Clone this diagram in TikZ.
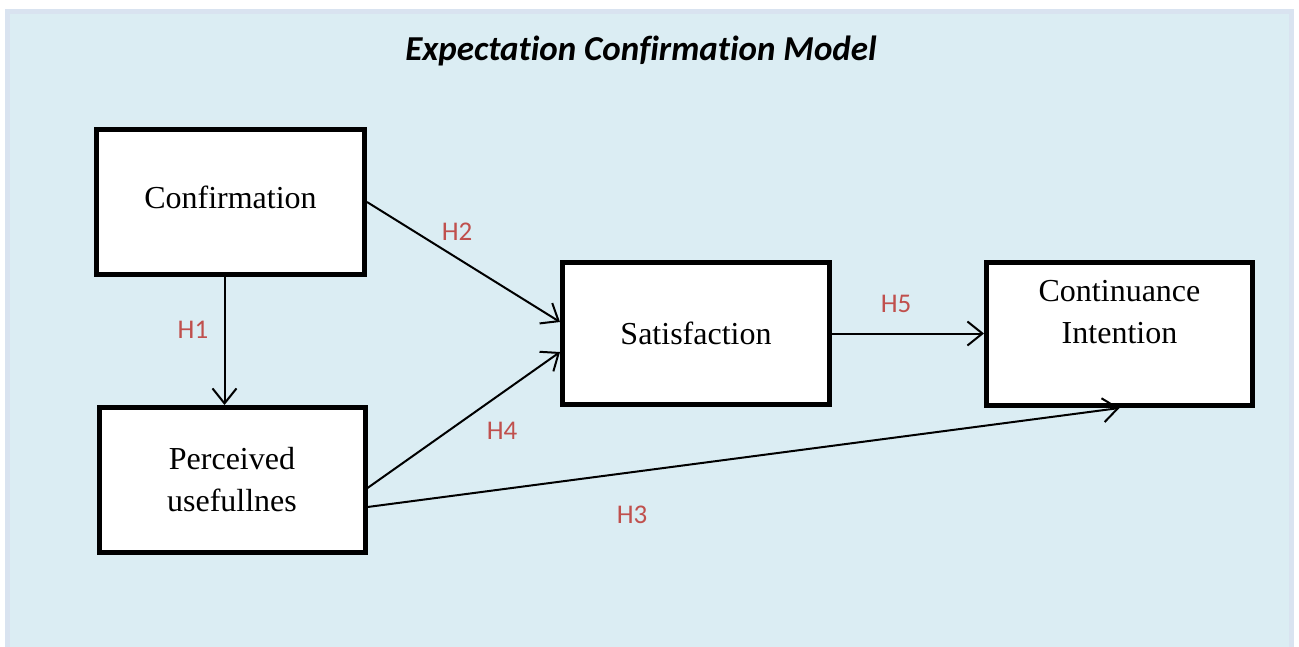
\documentclass[tikz,border=0pt]{standalone}
\usepackage{fontspec}
\setmainfont{Liberation Serif}
\newfontfamily\labelfont{Carlito}
\newfontfamily\titlefont[RawFeature={-liga}]{Carlito}
\usetikzlibrary{arrows.meta}
\definecolor{panelfill}{RGB}{219,237,243}
\definecolor{paneledge}{RGB}{217,227,240}
\definecolor{hypred}{RGB}{192,80,77}
\tikzset{
  construct/.style={draw=black, line width=5pt, fill=white, rectangle,
    minimum width=268pt, minimum height=145pt, inner sep=0pt,
    font=\fontsize{32}{42}\selectfont, align=center},
  caption/.style={inner sep=0pt, font=\fontsize{32}{42}\selectfont, align=center},
  path/.style={draw=black, line width=2pt,
    -{Straight Barb[length=15pt,width=24pt,line width=2pt]}},
  hyp/.style={text=hypred, font=\labelfont\fontsize{27}{30}\selectfont, inner sep=0pt},
}
\begin{document}
\begin{tikzpicture}[x=1pt,y=-1pt]
\useasboundingbox (0,0) rectangle (1299,646);
% panel behind the model
\fill[panelfill] (5,9) rectangle (1294,660);
\draw[paneledge, line width=5pt] (7.5,11.5) -- (7.5,660);
\draw[paneledge, line width=5pt] (5,11.5) -- (1294,11.5);
\draw[paneledge, line width=5pt] (1291.5,11.5) -- (1291.5,660);

\node[inner sep=0pt, font=\titlefont\bfseries\itshape\fontsize{35}{38}\selectfont] (title) at (641,51) {Expectation Confirmation Model};

% constructs
\node[construct] (conf) at (230.5,202) {};
\node[caption] (conftext) at (230.5,197) {Confirmation};
\node[construct, minimum width=266pt] (pu) at (232,480) {Perceived\\usefullnes};
\node[construct, minimum width=267pt, minimum height=142pt] (sat) at (696,333.5) {Satisfaction};
\node[construct, minimum width=266pt, minimum height=143pt] (ci) at (1119.5,334) {};
\node[caption] (citext) at (1119.5,312) {Continuance\\Intention};

% hypothesised paths
\draw[path] ([xshift=-6pt]conf.south) -- ([xshift=-6pt]conf.south |- pu.north);
\draw[path] (conf.east) -- ([yshift=11.5pt]sat.west);
\draw[path] ([yshift=-8pt]pu.east) -- ([yshift=-18.5pt]sat.west);
\draw[path] (sat.east) -- (sat.east -| ci.west);
\draw[path] ([yshift=-27pt]pu.east) -- (ci.south);

% hypothesis labels
\node[hyp] (h1) at (193,330) {H1};
\node[hyp] (h2) at (457,232) {H2};
\node[hyp] (h3) at (632,515) {H3};
\node[hyp] (h4) at (502,431) {H4};
\node[hyp] (h5) at (896,304) {H5};
\end{tikzpicture}
\end{document}
